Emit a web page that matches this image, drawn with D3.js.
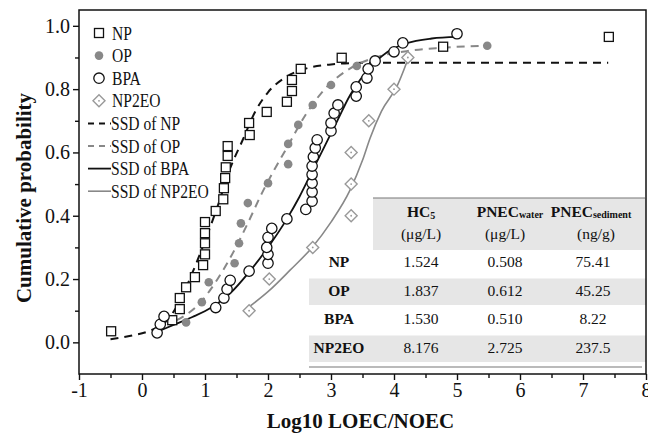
<!DOCTYPE html>
<html>
<head>
<meta charset="utf-8">
<script src="https://cdn.jsdelivr.net/npm/d3@7"></script>
<style>
  body { margin: 0; background: #fff; }
  svg { display: block; font-family: "Liberation Serif", "Times New Roman", serif; }
</style>
</head>
<body>
<svg id="chart" width="648" height="433"></svg>
<script>
// measured points, y = rank/(n+1)
const npX = [-0.49, 0.48, 0.6, 0.6, 0.7, 0.84, 0.97, 1.0, 1.0, 1.0, 1.0, 1.17, 1.29, 1.3, 1.32, 1.33, 1.36, 1.36, 1.71, 1.7, 1.98, 2.3, 2.38, 2.38, 2.52, 3.17, 4.78, 7.41];
const npY = [0.035, 0.07, 0.105, 0.14, 0.174, 0.206, 0.244, 0.278, 0.313, 0.345, 0.38, 0.415, 0.452, 0.487, 0.519, 0.553, 0.589, 0.62, 0.655, 0.693, 0.728, 0.76, 0.794, 0.829, 0.864, 0.899, 0.934, 0.965];

const opX = [0.7, 0.95, 1.06, 1.47, 1.54, 1.57, 1.68, 2.0, 2.32, 2.32, 2.48, 2.71, 3.0, 3.41, 5.48];
const opY = [0.063, 0.127, 0.19, 0.25, 0.313, 0.376, 0.44, 0.503, 0.563, 0.627, 0.687, 0.75, 0.813, 0.873, 0.937];

const bpaX = [0.24, 0.29, 0.35, 1.17, 1.3, 1.35, 1.4, 1.7, 2.0, 2.0, 1.98, 2.0, 2.06, 2.3, 2.6, 2.7, 2.7, 2.7, 2.7, 2.7, 2.72, 2.75, 2.78, 3.0, 3.0, 3.05, 3.11, 3.4, 3.4, 3.57, 3.59, 3.7, 4.0, 4.14, 5.0];
const bpaY = [0.03, 0.057, 0.082, 0.11, 0.14, 0.168, 0.196, 0.225, 0.25, 0.278, 0.3, 0.332, 0.36, 0.39, 0.42, 0.446, 0.475, 0.503, 0.53, 0.557, 0.586, 0.614, 0.64, 0.668, 0.693, 0.724, 0.75, 0.778, 0.807, 0.835, 0.864, 0.889, 0.918, 0.946, 0.975];

const eoX = [1.7, 2.02, 2.71, 3.32, 3.32, 3.32, 3.6, 4.0, 4.22];
const eoY = [0.1, 0.2, 0.3, 0.4, 0.5, 0.6, 0.7, 0.8, 0.9];

// SSD curves
const ssdNpX = [-0.5, -0.2, 0.1, 0.4, 0.6, 0.8, 1.0, 1.2, 1.4, 1.6, 1.8, 2.0, 2.3, 2.6, 3.0, 3.5, 5.0, 7.4];
const ssdNpY = [0.01, 0.02, 0.035, 0.07, 0.13, 0.22, 0.32, 0.43, 0.55, 0.64, 0.73, 0.79, 0.84, 0.865, 0.878, 0.883, 0.883, 0.883];
const ssdOpX = [0.55, 0.9, 1.2, 1.45, 1.7, 1.9, 2.1, 2.3, 2.6, 2.9, 3.3, 3.7, 4.2, 4.7, 5.48];
const ssdOpY = [0.07, 0.12, 0.2, 0.285, 0.385, 0.47, 0.545, 0.615, 0.72, 0.8, 0.865, 0.9, 0.92, 0.93, 0.937];
const ssdBpaX = [0.2, 0.5, 0.8, 1.1, 1.4, 1.7, 2.0, 2.3, 2.5, 2.7, 2.9, 3.1, 3.3, 3.5, 3.7, 3.9, 4.2, 4.6, 5.0];
const ssdBpaY = [0.03, 0.055, 0.08, 0.11, 0.155, 0.222, 0.3, 0.39, 0.46, 0.54, 0.62, 0.7, 0.78, 0.84, 0.885, 0.918, 0.945, 0.96, 0.965];
const ssdEoX = [1.72, 2.0, 2.35, 2.7, 3.0, 3.3, 3.5, 3.62, 3.8, 4.05, 4.25];
const ssdEoY = [0.115, 0.16, 0.228, 0.3, 0.38, 0.48, 0.575, 0.645, 0.73, 0.81, 0.91];

const xTicks = [-1, 0, 1, 2, 3, 4, 5, 6, 7, 8];
const yTicks = [0, 0.2, 0.4, 0.6, 0.8, 1.0];

// table
const tableRows = ["NP", "OP", "BPA", "NP2EO"];
const hc5 = ["1.524", "1.837", "1.530", "8.176"];
const pnecWater = ["0.508", "0.612", "0.510", "2.725"];
const pnecSediment = ["75.41", "45.25", "8.22", "237.5"];

const svg = d3.select("#chart");
const plotLeft = 79, plotRight = 646, plotTop = 10, plotBottom = 374;
const x = d3.scaleLinear().domain([-1, 8]).range([plotLeft, plotRight]);
const y = d3.scaleLinear().domain([-0.1, 1.05]).range([plotBottom, plotTop]);

const black = "#111";
const gray = "#888";
const lightGray = "#999";

// table backgrounds go under everything
const tbl = svg.append("g");
const rowH = 28.5, rowTop = 250;
tbl.append("rect").attr("x", 373).attr("y", 198).attr("width", plotRight - 373).attr("height", 52).attr("fill", "#e6e6e6");
[1, 3].forEach(i => {
  tbl.append("rect").attr("x", 309).attr("y", rowTop + i * rowH).attr("width", plotRight - 309).attr("height", rowH - 2).attr("fill", "#e6e6e6");
});
tbl.append("line").attr("x1", 373).attr("x2", plotRight - 1).attr("y1", 198).attr("y2", 198).attr("stroke", "#777").attr("stroke-width", 1.2);
tbl.append("line").attr("x1", 309).attr("x2", plotRight - 4).attr("y1", 367).attr("y2", 367).attr("stroke", "#777").attr("stroke-width", 1.2);

// curves
const line = d3.line().x(d => x(d[0])).y(d => y(d[1])).curve(d3.curveMonotoneX);
const zip = (a, b) => a.map((v, i) => [v, b[i]]);

svg.append("path").attr("d", line(zip(ssdNpX, ssdNpY))).attr("fill", "none")
  .attr("stroke", black).attr("stroke-width", 2).attr("stroke-dasharray", "8,6");
svg.append("path").attr("d", line(zip(ssdOpX, ssdOpY))).attr("fill", "none")
  .attr("stroke", gray).attr("stroke-width", 2).attr("stroke-dasharray", "8,6");
svg.append("path").attr("d", line(zip(ssdBpaX, ssdBpaY))).attr("fill", "none")
  .attr("stroke", black).attr("stroke-width", 1.8);
svg.append("path").attr("d", line(zip(ssdEoX, ssdEoY))).attr("fill", "none")
  .attr("stroke", gray).attr("stroke-width", 1.6);

// markers
function drawSquare(g, cx, cy) {
  g.append("rect").attr("x", cx - 4.5).attr("y", cy - 4.5).attr("width", 9).attr("height", 9)
    .attr("fill", "#fff").attr("stroke", black).attr("stroke-width", 1.3);
}
function drawDot(g, cx, cy) {
  g.append("circle").attr("cx", cx).attr("cy", cy).attr("r", 4.3).attr("fill", gray);
}
function drawCircle(g, cx, cy) {
  g.append("circle").attr("cx", cx).attr("cy", cy).attr("r", 5.2)
    .attr("fill", "#fff").attr("stroke", black).attr("stroke-width", 1.3);
}
function drawDiamond(g, cx, cy) {
  g.append("path").attr("d", `M${cx},${cy - 6}L${cx + 6},${cy}L${cx},${cy + 6}L${cx - 6},${cy}Z`)
    .attr("fill", "#fff").attr("stroke", lightGray).attr("stroke-width", 1.4);
  g.append("circle").attr("cx", cx).attr("cy", cy).attr("r", 0.9).attr("fill", lightGray);
}

const pts = svg.append("g");
npX.forEach((v, i) => drawSquare(pts, x(v), y(npY[i])));
opX.forEach((v, i) => drawDot(pts, x(v), y(opY[i])));
bpaX.forEach((v, i) => drawCircle(pts, x(v), y(bpaY[i])));
eoX.forEach((v, i) => drawDiamond(pts, x(v), y(eoY[i])));

// table text
const tt = svg.append("g").attr("font-size", 15.5).attr("fill", black);
const colX = [421, 505, 593];
const h1 = tt.append("text").attr("x", colX[0]).attr("y", 217).attr("text-anchor", "middle").attr("font-weight", "bold");
h1.append("tspan").text("HC");
h1.append("tspan").attr("font-size", 10).attr("dy", 2).text("5");
const h2 = tt.append("text").attr("x", colX[1] + 5).attr("y", 217).attr("text-anchor", "middle").attr("font-weight", "bold");
h2.append("tspan").text("PNEC");
h2.append("tspan").attr("font-size", 10).attr("dy", 1).text("water");
const h3 = tt.append("text").attr("x", colX[2] - 2).attr("y", 217).attr("text-anchor", "middle").attr("font-weight", "bold");
h3.append("tspan").text("PNEC");
h3.append("tspan").attr("font-size", 10).attr("dy", 1).text("sediment");
["(μg/L)", "(μg/L)", "(ng/g)"].forEach((t, i) => {
  tt.append("text").attr("x", colX[i] + (i === 2 ? 3 : 0)).attr("y", 239).attr("text-anchor", "middle").text(t);
});
tableRows.forEach((r, i) => {
  const cy = rowTop + i * rowH + 17;
  tt.append("text").attr("x", 339).attr("y", cy).attr("text-anchor", "middle").attr("font-weight", "bold").text(r);
  [hc5, pnecWater, pnecSediment].forEach((col, j) => {
    tt.append("text").attr("x", colX[j]).attr("y", cy).attr("text-anchor", "middle").text(col[i]);
  });
});

// axes
const xAxis = svg.append("g").attr("transform", `translate(0,${plotBottom})`)
  .call(d3.axisBottom(x).tickValues(xTicks).tickSize(6).tickFormat(d3.format("d")));
svg.append("g").attr("transform", `translate(0,${plotBottom})`)
  .call(d3.axisBottom(x).tickValues(xTicks.slice(0, -1).map(d => d + 0.5)).tickSize(4).tickFormat(""));
const yAxis = svg.append("g").attr("transform", `translate(${plotLeft},0)`)
  .call(d3.axisLeft(y).tickValues(yTicks).tickSize(6).tickFormat(d3.format(".1f")));
svg.append("g").attr("transform", `translate(${plotLeft},0)`)
  .call(d3.axisLeft(y).tickValues(yTicks.slice(0, -1).map(d => d + 0.1)).tickSize(4).tickFormat(""));

svg.selectAll(".domain").remove();
svg.selectAll(".tick line").attr("stroke", black).attr("stroke-width", 1.4);
svg.selectAll(".tick text").attr("font-size", 20).attr("font-family", "Liberation Serif").attr("fill", black);
xAxis.selectAll("text").filter(d => d === -1).text("-1");

svg.append("rect").attr("x", plotLeft).attr("y", plotTop).attr("width", plotRight - plotLeft).attr("height", plotBottom - plotTop)
  .attr("fill", "none").attr("stroke", black).attr("stroke-width", 1.5);

// titles
svg.append("text").attr("x", (plotLeft + plotRight) / 2 - 2).attr("y", 428).attr("text-anchor", "middle")
  .attr("font-size", 21).attr("font-weight", "bold").attr("fill", black).text("Log10 LOEC/NOEC");
svg.append("text").attr("transform", `translate(31,${(plotTop + plotBottom) / 2 + 6}) rotate(-90)`).attr("text-anchor", "middle")
  .attr("font-size", 21).attr("font-weight", "bold").attr("fill", black).text("Cumulative probability");

// legend
const legendItems = ["NP", "OP", "BPA", "NP2EO", "SSD of NP", "SSD of OP", "SSD of BPA", "SSD of NP2EO"];
const lg = svg.append("g").attr("fill", black);
legendItems.forEach((name, i) => {
  const ly = 33 + i * 22.6;
  if (i === 0) drawSquare(lg, 99, ly);
  if (i === 1) drawDot(lg, 99, ly);
  if (i === 2) drawCircle(lg, 99, ly);
  if (i === 3) drawDiamond(lg, 99, ly);
  if (i >= 4) {
    const l = lg.append("line").attr("x1", 88).attr("x2", 111).attr("y1", ly).attr("y2", ly)
      .attr("stroke", i % 2 === 0 ? black : gray).attr("stroke-width", i < 6 ? 2 : (i === 6 ? 1.8 : 1.6));
    if (i < 6) l.attr("stroke-dasharray", "6,5");
  }
  lg.append("text").attr("transform", `translate(${i >= 4 ? 111 : 112},${ly + 6.5}) scale(0.82,1)`)
    .attr("font-size", 19).text(name);
});
</script>
</body>
</html>
